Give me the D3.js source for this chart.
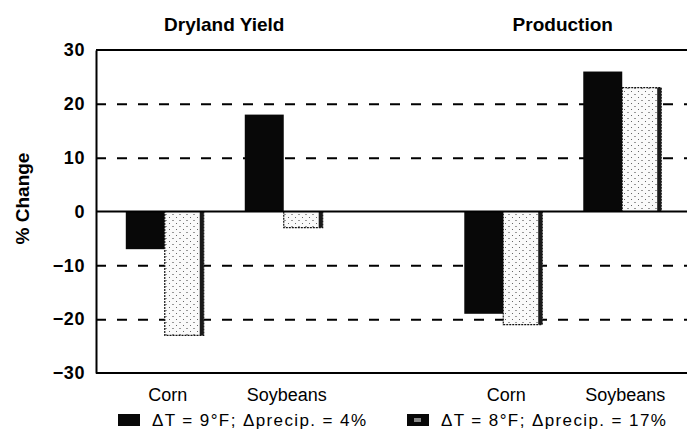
<!DOCTYPE html>
<html>
<head>
<meta charset="utf-8">
<script src="https://cdn.jsdelivr.net/npm/d3@7"></script>
<style>
  body { margin: 0; background: #fff; }
  svg { display: block; font-family: "Liberation Sans", Arial, sans-serif; }
</style>
</head>
<body>
<div id="canvas"></div>
<script>
// Datos
const groups = ["Dryland Yield", "Production"];
const crops = ["Corn", "Soybeans"];
const seriesNames = ["ΔT = 9°F; Δprecip. = 4%", "ΔT = 8°F; Δprecip. = 17%"];
// orden: Dryland Corn, Dryland Soybeans, Production Corn, Production Soybeans
const warmDry = [-7, 18, -19, 26];
const warmWet = [-23, -3, -21, 23];
const yTicks = [-30, -20, -10, 0, 10, 20, 30];
const gridTicks = [-20, -10, 10, 20];

const width = 687;
const height = 432;
const plot = {left: 96, right: 687, top: 50, bottom: 373};

const svg = d3.select("#canvas").append("svg")
    .attr("width", width)
    .attr("height", height);

// Patron de puntos para la segunda serie
const defs = svg.append("defs");
const pat = defs.append("pattern")
    .attr("id", "speck")
    .attr("patternUnits", "userSpaceOnUse")
    .attr("width", 7).attr("height", 6);
pat.append("rect").attr("width", 7).attr("height", 6).attr("fill", "#fafafa");
pat.append("rect").attr("x", 1).attr("y", 1).attr("width", 1).attr("height", 1).attr("fill", "#666");
pat.append("rect").attr("x", 4).attr("y", 4).attr("width", 2).attr("height", 1).attr("fill", "#999");

// Escalas
const y = d3.scaleLinear().domain([-30, 30]).range([plot.bottom, plot.top]);
const x0 = d3.scaleBand().domain(groups).range([55, 732]).padding(0);
const x1 = d3.scaleBand().domain(crops).range([0, x0.bandwidth()])
    .paddingInner(0.345).paddingOuter(0.595);
const x2 = d3.scaleBand().domain([0, 1]).range([0, x1.bandwidth()]).padding(0);

const data = [];
groups.forEach((g, gi) => crops.forEach((c, ci) => {
    const k = gi * 2 + ci;
    data.push({group: g, crop: c, s: 0, value: warmDry[k]});
    data.push({group: g, crop: c, s: 1, value: warmWet[k]});
}));

// Lineas de guia punteadas
svg.append("g")
    .attr("transform", `translate(${plot.left},0)`)
    .call(d3.axisLeft(y).tickValues(gridTicks).tickSize(-(plot.right - plot.left)).tickFormat(""))
    .call(g => g.select(".domain").remove())
    .call(g => g.selectAll("line")
        .attr("stroke", "#000")
        .attr("stroke-width", 2)
        .attr("stroke-dasharray", "10,11"));

// Barras
const barX = d => x0(d.group) + x1(d.crop) + x2(d.s);
svg.append("g").selectAll("rect").data(data).enter()
    .append("rect")
    .attr("x", barX)
    .attr("y", d => y(Math.max(0, d.value)))
    .attr("width", x2.bandwidth())
    .attr("height", d => Math.abs(y(d.value) - y(0)))
    .attr("fill", d => d.s === 0 ? "#080808" : "url(#speck)")
    .attr("stroke", "#111")
    .attr("stroke-width", d => d.s === 0 ? 0 : 1.2)
    .attr("stroke-dasharray", d => d.s === 0 ? null : "2,1");

// Borde oscuro derecho de la segunda serie (efecto del escaneo)
svg.append("g").selectAll("rect").data(data.filter(d => d.s === 1)).enter()
    .append("rect")
    .attr("x", d => barX(d) + x2.bandwidth() - 4)
    .attr("y", d => y(Math.max(0, d.value)))
    .attr("width", 4)
    .attr("height", d => Math.abs(y(d.value) - y(0)))
    .attr("fill", "#1a1a1a");

// Marco: linea superior, inferior y cero
[30, -30, 0].forEach(v => {
    svg.append("line")
        .attr("x1", plot.left).attr("x2", plot.right)
        .attr("y1", y(v)).attr("y2", y(v))
        .attr("stroke", "#000").attr("stroke-width", 2);
});

// Eje y
svg.append("g")
    .attr("transform", `translate(${plot.left},0)`)
    .call(d3.axisLeft(y).tickValues(yTicks).tickSize(0).tickPadding(11))
    .call(g => g.select(".domain").attr("stroke-width", 2))
    .call(g => g.selectAll("text")
        .attr("font-size", 18)
        .attr("font-weight", "bold")
        .attr("letter-spacing", 0.6)
        .attr("font-family", "Liberation Sans, Arial, sans-serif")
        .attr("fill", "#000"));

svg.append("text")
    .attr("transform", `translate(29, ${y(0) - 13}) rotate(-90)`)
    .attr("text-anchor", "middle")
    .attr("font-size", 19)
    .attr("font-weight", "bold")
    .text("% Change");

// Titulos de grupo
svg.append("g").selectAll("text").data(groups).enter()
    .append("text")
    .attr("x", d => x0(d) + x0.bandwidth() / 2)
    .attr("y", 31)
    .attr("text-anchor", "middle")
    .attr("font-size", 19)
    .attr("font-weight", "bold")
    .text(d => d);

// Etiquetas de cultivos
const cats = [];
groups.forEach(g => crops.forEach(c => cats.push({group: g, crop: c})));
svg.append("g").selectAll("text").data(cats).enter()
    .append("text")
    .attr("x", d => x0(d.group) + x1(d.crop) + x1.bandwidth() / 2 + 3)
    .attr("y", 401)
    .attr("text-anchor", "middle")
    .attr("font-size", 18)
    .text(d => d.crop);

// Leyenda
const legX = [118, 407];
const leg = svg.append("g").selectAll("g").data(seriesNames).enter()
    .append("g")
    .attr("transform", (d, i) => `translate(${legX[i]}, 414)`);
leg.append("rect")
    .attr("width", 22).attr("height", 12)
    .attr("fill", "#080808");
leg.filter((d, i) => i === 1).append("rect")
    .attr("x", 7).attr("y", 4).attr("width", 7).attr("height", 4)
    .attr("fill", "#888");
leg.append("text")
    .attr("x", 34).attr("y", 12)
    .attr("font-size", 17)
    .attr("letter-spacing", 1.4)
    .text(d => d);
</script>
</body>
</html>
